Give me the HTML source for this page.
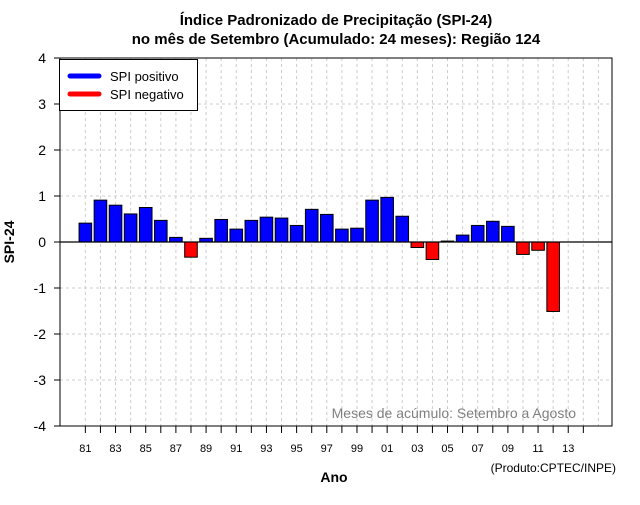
<!DOCTYPE html>
<html><head><meta charset="utf-8"><style>
body{margin:0;background:#fff;font-family:"Liberation Sans",sans-serif}
svg text{font-family:"Liberation Sans",sans-serif}
</style></head><body>
<svg width="640" height="500" xmlns="http://www.w3.org/2000/svg" id="chart">
<rect width="640" height="500" fill="#fff"/>
<text x="336" y="25" text-anchor="middle" font-size="15" font-weight="bold">Índice Padronizado de Precipitação (SPI-24)</text>
<text x="336" y="44" text-anchor="middle" font-size="15" font-weight="bold">no mês de Setembro (Acumulado: 24 meses): Região 124</text>
<g id="grid"></g><g id="bars"></g><g id="axes"></g>
<text x="14" y="242" text-anchor="middle" font-size="14" font-weight="bold" transform="rotate(-90 14 242)">SPI-24</text>
<text x="334" y="482" text-anchor="middle" font-size="14" font-weight="bold">Ano</text>
<text x="576" y="418" text-anchor="end" font-size="14" fill="#808080">Meses de acúmulo: Setembro a Agosto</text>
<text x="616" y="472" text-anchor="end" font-size="12">(Produto:CPTEC/INPE)</text>
<g>
<rect x="59.5" y="59.5" width="138" height="51" fill="#fff" stroke="#000"/>
<line x1="70" y1="76" x2="99" y2="76" stroke="#0000ff" stroke-width="5" stroke-linecap="round"/>
<text x="110" y="81" font-size="13">SPI positivo</text>
<line x1="70" y1="94" x2="99" y2="94" stroke="#ff0000" stroke-width="5" stroke-linecap="round"/>
<text x="110" y="99" font-size="13">SPI negativo</text>
</g>
</svg>
<script>
const years=[1981,1982,1983,1984,1985,1986,1987,1988,1989,1990,1991,1992,1993,1994,1995,1996,1997,1998,1999,2000,2001,2002,2003,2004,2005,2006,2007,2008,2009,2010,2011,2012];
const spiValues=[0.41,0.91,0.80,0.61,0.75,0.47,0.10,-0.33,0.08,0.49,0.28,0.47,0.54,0.52,0.36,0.71,0.60,0.28,0.30,0.91,0.97,0.56,-0.12,-0.38,0.02,0.15,0.36,0.45,0.34,-0.27,-0.18,-1.51];
const yTicks=[-4,-3,-2,-1,0,1,2,3,4];
const xLabelYears=[1981,1983,1985,1987,1989,1991,1993,1995,1997,1999,2001,2003,2005,2007,2009,2011,2013];
const NS='http://www.w3.org/2000/svg';
const L=60,R=612,T=58,B=426;
const xMin=1979.32,xMax=2015.9,yMin=-4,yMax=4;
const x=v=>L+(v-xMin)/(xMax-xMin)*(R-L);
const y=v=>B-(v-yMin)/(yMax-yMin)*(B-T);
function mk(tag,attrs,parent){const e=document.createElementNS(NS,tag);for(const k in attrs)e.setAttribute(k,attrs[k]);parent.appendChild(e);return e;}
const grid=document.getElementById('grid'),bars=document.getElementById('bars'),axes=document.getElementById('axes');
for(let yr=1981;yr<=2015;yr++){const g=mk('line',{x1:x(yr),x2:x(yr),y1:T,y2:B,stroke:'#cccccc','stroke-dasharray':'3,3'},grid);

}
yTicks.forEach(t=>{const g=mk('line',{x1:L,x2:R,y1:y(t),y2:y(t),stroke:'#cccccc','stroke-dasharray':'3,3'},grid);


const tk=mk('line',{x1:L-6,x2:L,y1:y(t),y2:y(t),stroke:'#000'},axes);


const tx=mk('text',{x:L-14,y:y(t)+5,'text-anchor':'end','font-size':'14'},axes);tx.textContent=t;

});
const bw=12.6;
years.forEach((yr,i)=>{const v=spiValues[i];const top=y(Math.max(v,0)),bot=y(Math.min(v,0));
const b=mk('rect',{x:x(yr)-bw/2,y:top,width:bw,height:Math.max(bot-top,0.5),fill:v>=0?'#0000ff':'#ff0000',stroke:'#000','stroke-width':1},bars);

});
const z=mk('line',{x1:L,x2:R,y1:y(0),y2:y(0),stroke:'#000','stroke-width':1.2},axes);


const fr=mk('rect',{x:L,y:T,width:R-L,height:B-T,fill:'none',stroke:'#000'},axes);


for(let yr=1981;yr<=2014;yr++){const tk=mk('line',{x1:x(yr),x2:x(yr),y1:B,y2:B+7,stroke:'#000'},axes);

}
xLabelYears.forEach(yr=>{const tx=mk('text',{x:x(yr),y:452,'text-anchor':'middle','font-size':'11'},axes);tx.textContent=String(yr%100).padStart(2,'0');

});
</script>
</body></html>
